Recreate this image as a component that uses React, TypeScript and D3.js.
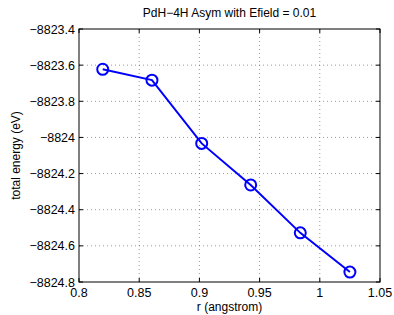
import React from "react";
import * as d3 from "d3";

const rValues = [0.8197, 0.8606, 0.9019, 0.9426, 0.9838, 1.025];
const energies = [-8823.623, -8823.683, -8824.033, -8824.263, -8824.528, -8824.745];
const xTicks = [0.8, 0.85, 0.9, 0.95, 1, 1.05];
const yTicks = [-8823.4, -8823.6, -8823.8, -8824, -8824.2, -8824.4, -8824.6, -8824.8];

const W = 394;
const H = 315;
const margin = { top: 29, right: 14, bottom: 33, left: 79 };
const font = "'Liberation Sans', Arial, sans-serif";

const fmt = (v: number) => String(v).replace("-", "\u2212");

export default function App() {
  const x = d3.scaleLinear().domain([0.8, 1.05]).range([margin.left, W - margin.right]);
  const y = d3.scaleLinear().domain([-8824.8, -8823.4]).range([H - margin.bottom, margin.top]);
  const line = d3
    .line<number>()
    .x((_, i) => x(rValues[i]))
    .y((d) => y(d));
  const [x0, x1] = x.range();
  const [y0, y1] = y.range();
  const tick = 4;

  return (
    <svg width={W} height={H} style={{ position: "absolute", left: 0, top: 0, background: "#fff" }}>
      <rect x={0} y={0} width={W} height={H} fill="#fff" />
      {/* grid */}
      {xTicks.slice(1, -1).map((t) => (
        <line key={"gx" + t} x1={x(t)} x2={x(t)} y1={y1} y2={y0} stroke="#555" strokeWidth={0.6} strokeDasharray="1,3" />
      ))}
      {yTicks.slice(1, -1).map((t) => (
        <line key={"gy" + t} x1={x0} x2={x1} y1={y(t)} y2={y(t)} stroke="#555" strokeWidth={0.6} strokeDasharray="1,3" />
      ))}
      {/* ticks */}
      {xTicks.map((t) => (
        <g key={"tx" + t}>
          <line x1={x(t)} x2={x(t)} y1={y0} y2={y0 - tick} stroke="#000" />
          <line x1={x(t)} x2={x(t)} y1={y1} y2={y1 + tick} stroke="#000" />
          <text x={x(t)} y={y0 + 15} textAnchor="middle" fontFamily={font} fontSize={12.5}>
            {fmt(t)}
          </text>
        </g>
      ))}
      {yTicks.map((t) => (
        <g key={"ty" + t}>
          <line x1={x0} x2={x0 + tick} y1={y(t)} y2={y(t)} stroke="#000" />
          <line x1={x1} x2={x1 - tick} y1={y(t)} y2={y(t)} stroke="#000" />
          <text x={x0 - 4} y={y(t) + 4.5} textAnchor="end" fontFamily={font} fontSize={12.5}>
            {fmt(t)}
          </text>
        </g>
      ))}
      <rect x={x0} y={y1} width={x1 - x0} height={y0 - y1} fill="none" stroke="#000" strokeWidth={1} />
      {/* data */}
      <path d={line(energies) ?? ""} fill="none" stroke="#0000ff" strokeWidth={2} />
      {energies.map((e, i) => (
        <circle key={i} cx={x(rValues[i])} cy={y(e)} r={5.5} fill="none" stroke="#0000ff" strokeWidth={2} />
      ))}
      <text x={(x0 + x1) / 2} y={17} textAnchor="middle" fontFamily={font} fontSize={12}>
        PdH{"\u2212"}4H Asym with Efield = 0.01
      </text>
      <text x={(x0 + x1) / 2} y={311} textAnchor="middle" fontFamily={font} fontSize={12}>
        r (angstrom)
      </text>
      <text
        transform={`translate(20,${(y0 + y1) / 2}) rotate(-90)`}
        textAnchor="middle"
        fontFamily={font}
        fontSize={12}
      >
        total energy (eV)
      </text>
    </svg>
  );
}
